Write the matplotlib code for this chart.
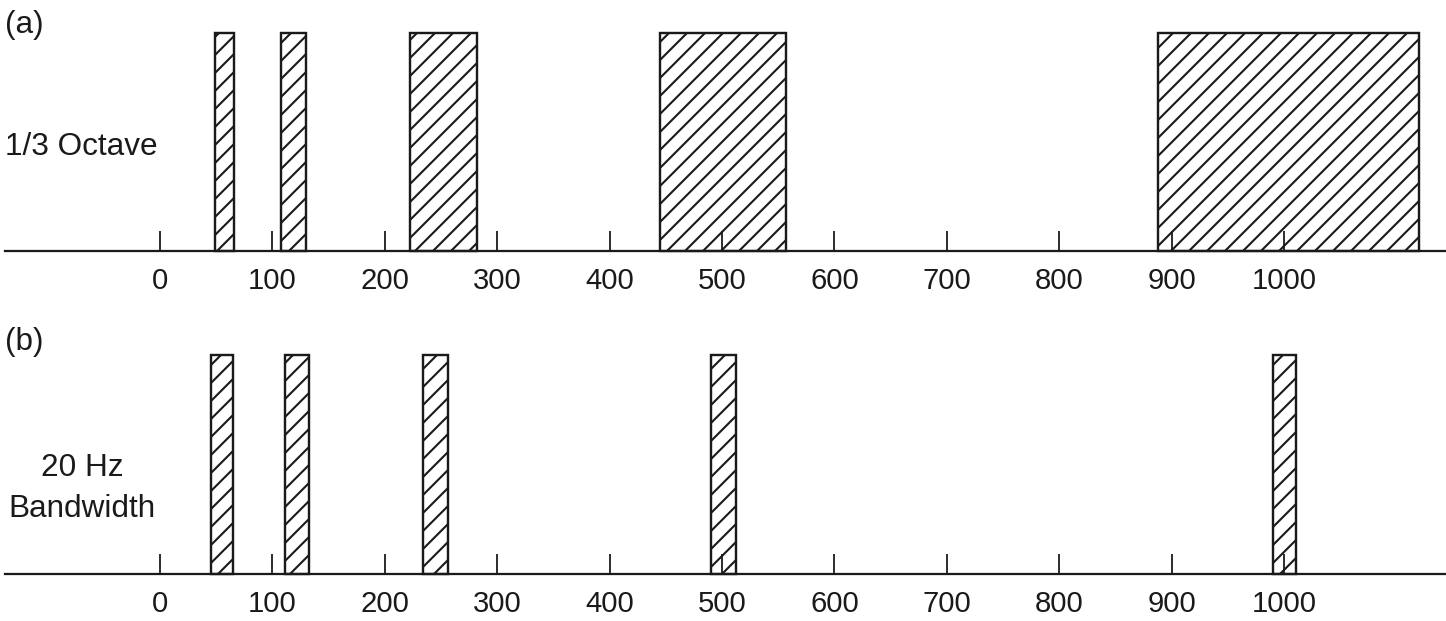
import matplotlib
matplotlib.use("Agg")
import matplotlib.pyplot as plt

# ----------------------------
# Data (frequency in Hz)
# ----------------------------

freq_ticks = [0, 100, 200, 300, 400, 500, 600, 700, 800, 900, 1000]

# (a) 1/3 octave bands: lower / upper band edges
octave_low = [49, 108, 222, 445, 888]
octave_high = [66, 130, 282, 557, 1120]

# (b) 20 Hz bandwidth bands: lower / upper band edges
band_low = [45, 111, 234, 490, 990]
band_high = [65, 133, 256, 512, 1011]

level = [1, 1, 1, 1, 1]

# ----------------------------
# Style
# ----------------------------

W, H, DPI = 1446, 621, 108

plt.rcParams.update({
    "font.family": ["Liberation Sans", "DejaVu Sans"],
    "hatch.linewidth": 1.4,
    "hatch.color": "black",
})

fig = plt.figure(figsize=(W / DPI, H / DPI), dpi=DPI)


def px_axes(top, bottom):
    # axes placed by pixel rows (measured from the top of the figure)
    return fig.add_axes([5 / W, 1 - bottom / H, (W - 5) / W, (bottom - top) / H])


def px_text(x, y, s, **kw):
    fig.text(x / W, 1 - y / H, s, fontsize=21, va="baseline", color="#1a1a1a", **kw)


def draw_panel(ax, low, high):
    widths = [h - l for l, h in zip(low, high)]
    ax.bar(low, level, width=widths, align="edge", color="white",
           edgecolor="#1a1a1a", hatch="//", linewidth=1.6, clip_on=False)
    ax.set_xlim(-137.9, 1144.1)
    ax.set_ylim(0, 1)
    for side in ["top", "left", "right"]:
        ax.spines[side].set_visible(False)
    ax.spines["bottom"].set_linewidth(1.5)
    ax.spines["bottom"].set_color("#1a1a1a")
    ax.set_yticks([])
    ax.set_xticks(freq_ticks)
    ax.set_xticklabels([str(t) for t in freq_ticks])
    ax.tick_params(axis="x", direction="in", length=13.3, width=1.2,
                   pad=10.7, labelsize=19.5, color="#1a1a1a",
                   labelcolor="#1a1a1a")
    ax.patch.set_visible(False)


ax_a = px_axes(33, 251)
draw_panel(ax_a, octave_low, octave_high)

ax_b = px_axes(355, 574)
draw_panel(ax_b, band_low, band_high)

px_text(5, 33, "(a)", ha="left")
px_text(5, 155, "1/3 Octave", ha="left")
px_text(5, 350, "(b)", ha="left")
px_text(82, 476, "20 Hz", ha="center")
px_text(82, 517, "Bandwidth", ha="center")

fig.savefig("out.png", dpi=DPI)
